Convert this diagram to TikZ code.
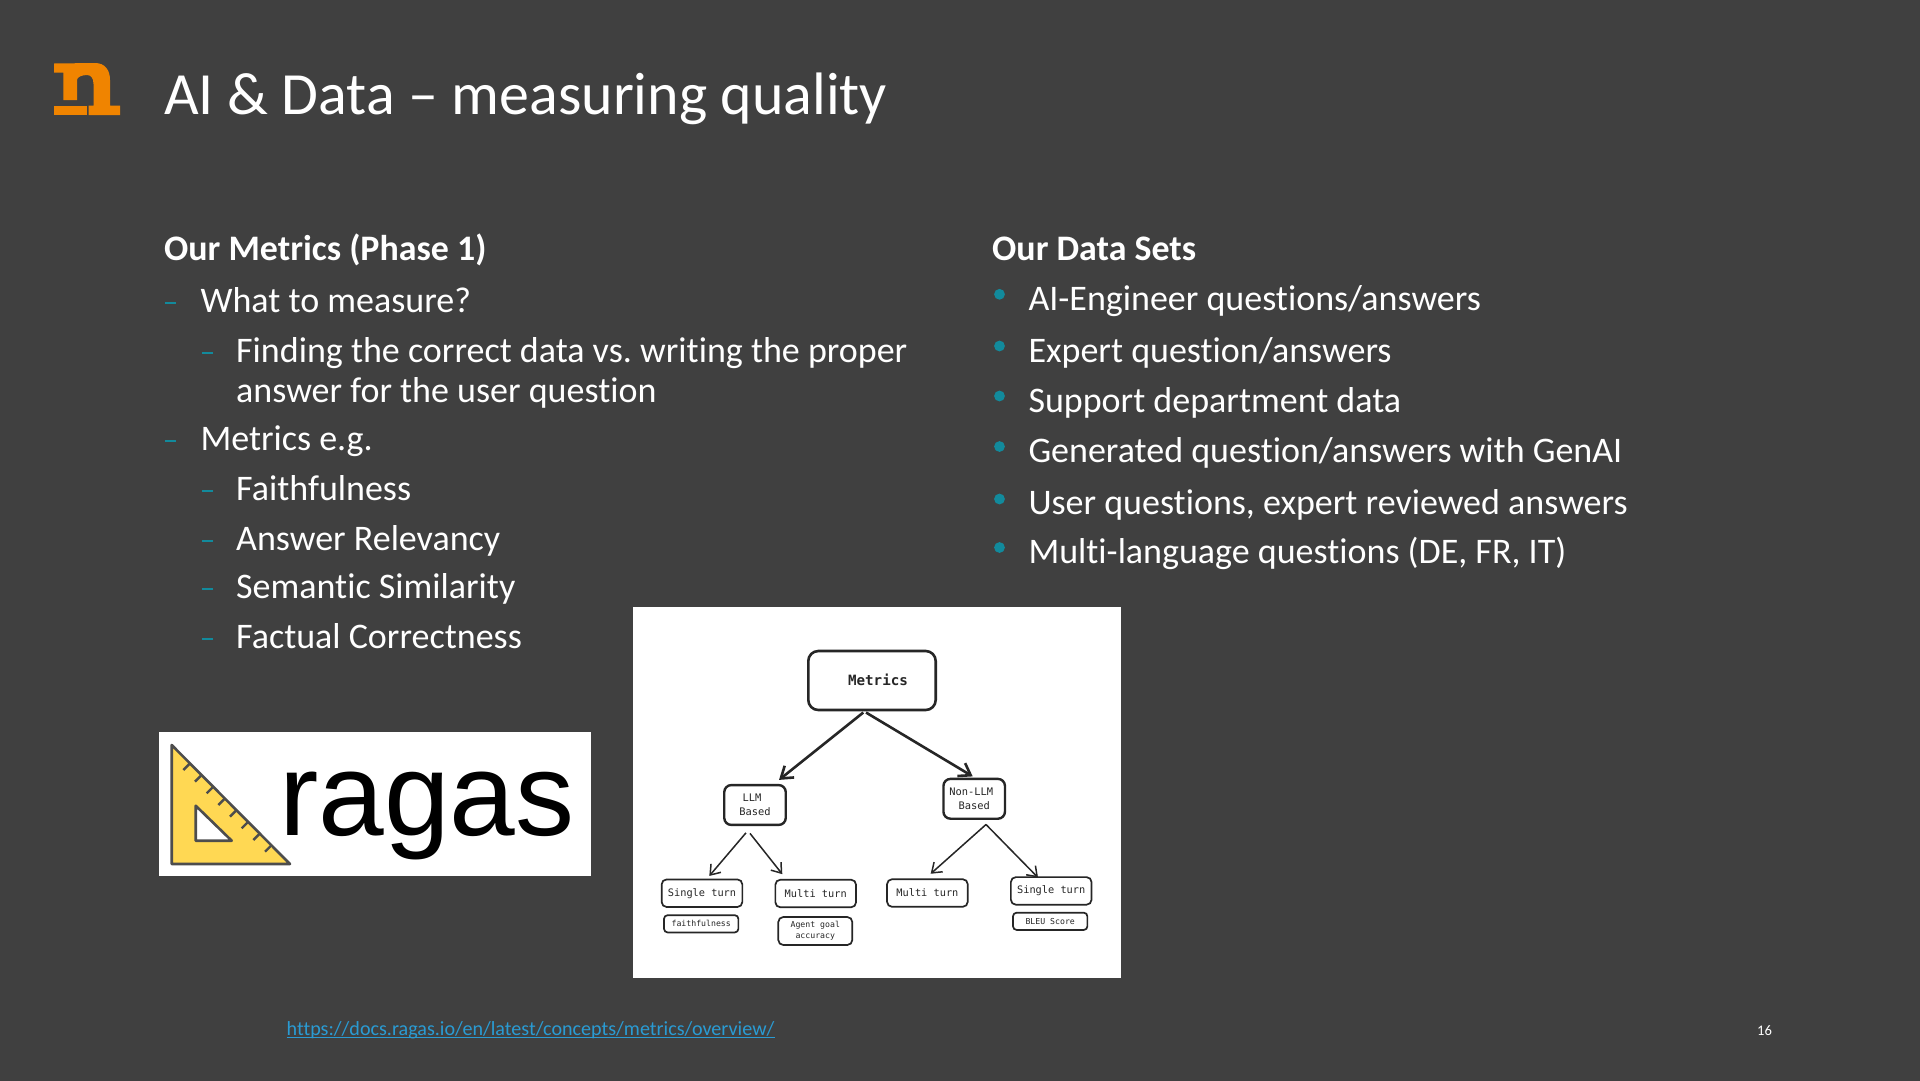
\documentclass[tikz,border=0pt]{standalone}
\usepackage{fontspec}
\setmainfont[Ligatures=NoCommon]{Carlito}
\newfontfamily\monof{DejaVu Sans Mono}
\newfontfamily\logof{Liberation Sans}
\usetikzlibrary{arrows.meta}
\definecolor{slidebg}{HTML}{404040}
\definecolor{teal1}{HTML}{128A9C}
\definecolor{orng}{HTML}{F08400}
\definecolor{linkc}{HTML}{2A9BD3}
\definecolor{ink}{HTML}{262626}
\definecolor{setsq}{HTML}{FFD853}
\definecolor{setln}{HTML}{4D4D4D}
\newcommand{\fs}[1]{\frenchspacing\fontsize{#1}{#1}\selectfont}
\tikzset{
  txt/.style={anchor=base west,inner sep=0pt,text=white,font=\fs{36}},
  head/.style={txt,font=\fs{35.9}\bfseries},
  hand/.style={draw=ink,rounded corners=5pt,inner sep=0pt,text=ink,align=center,line width=1.7pt},
  bigbox/.style={hand,line width=2.6pt,rounded corners=10pt,minimum width=127.4pt,minimum height=59pt,font=\monof\bfseries\fs{14.2}},
  midbox/.style={hand,line width=2.4pt,rounded corners=7pt,minimum width=61.5pt,minimum height=39.8pt,font=\monof\fontsize{10.4}{14}\selectfont},
  turnbox/.style={hand,minimum width=80.7pt,minimum height=27.6pt,font=\monof\fs{10.3}},
  smallbox/.style={hand,rounded corners=3.5pt,minimum width=74.3pt,minimum height=17.2pt,font=\monof\fs{8.2}},
  tallbox/.style={hand,minimum width=74pt,minimum height=28pt,font=\monof\fontsize{8.2}{11.3}\selectfont},
  arr/.style={draw=ink,line width=1.5pt,-{Straight Barb[length=9pt,width=13pt]}},
  arrb/.style={draw=ink,line width=2.6pt,-{Straight Barb[length=11pt,width=15pt]}},
  dashm/.style={fill=teal1,draw=none},
}
\begin{document}
\begin{tikzpicture}[x=1pt,y=-1pt]
\useasboundingbox (0,0) rectangle (1920,1080);
\fill[slidebg] (-2,-2) rectangle (1922,1082);

% logo
\fill[orng] (54,63.5) -- (95,63) .. controls (105,63) and (110,70) .. (110,80)
  -- (110,105.7) -- (120,105.7) -- (120,115) -- (88.5,115) -- (88.5,105.7)
  -- (93.5,105.7) -- (93.5,84) .. controls (93.5,78) and (91,75) .. (87,75)
  .. controls (82,75) and (77,77) .. (77,80) -- (77,100) -- (63.3,100)
  -- (63.3,72.5) -- (54,72.5) -- cycle;
\fill[orng] (54,105.7) rectangle (86.5,115);

% title
\node[txt,font=\fs{59.9}] (title) at (164,114) {AI \& Data – measuring quality};

% left column
\node[head] (lefthead) at (164,260.8) {Our Metrics (Phase 1)};
\node[txt] (l1) at (200.3,312.8) {What to measure?};
\node[txt] (l2) at (236,362.8) {Finding the correct data vs. writing the proper};
\node[txt] (l3) at (236,402.8) {answer for the user question};
\node[txt] (l4) at (200.3,450.5) {Metrics e.g.};
\node[txt] (l5) at (236,500.6) {Faithfulness};
\node[txt] (l6) at (236,550.6) {Answer Relevancy};
\node[txt] (l7) at (236,598.6) {Semantic Similarity};
\node[txt] (l8) at (236,648.6) {Factual Correctness};
\foreach \yy in {303,441} \fill[dashm] (165,\yy-1.2) rectangle (176,\yy+1.2);
\foreach \yy in {353,491,541,589,639} \fill[dashm] (201.5,\yy-1.2) rectangle (212.5,\yy+1.2);

% right column
\node[head] (righthead) at (992,260.8) {Our Data Sets};
\node[txt] (r1) at (1028.3,310.8) {AI-Engineer questions/answers};
\node[txt] (r2) at (1028.3,362.3) {Expert question/answers};
\node[txt] (r3) at (1028.3,412.3) {Support department data};
\node[txt] (r4) at (1028.3,462.8) {Generated question/answers with GenAI};
\node[txt] (r5) at (1028.3,514.8) {User questions, expert reviewed answers};
\node[txt] (r6) at (1028.3,563.8) {Multi-language questions (DE, FR, IT)};
\foreach \yy in {294.3,346,396,446.5,499,547.5} \fill[teal1] (999.5,\yy) circle (5.4);

% ragas logo
\fill[white] (159,732.3) rectangle (591,875.7);
\draw[setln,fill=setsq,line width=2.6pt,line join=round] (171.7,745) -- (171.7,864) -- (290,864) -- cycle;
\draw[setln,fill=white,line width=2.6pt,line join=round] (195.7,805.7) -- (195.7,840.7) -- (231.7,840.7) -- cycle;
\foreach \i in {0,...,7}
  \draw[setln,line width=2.4pt] ({189.3+\i*11.67},{764+\i*11.67}) -- ++(-6,6);
\node[anchor=base west,inner sep=0pt,text=black,font=\logof\fs{118}] (ragas) at (279,835) {ragas};

% metrics picture
\fill[white] (633,607) rectangle (1121,978);
\node[bigbox] (metrics) at (872,680.5) {\raisebox{1.5pt}{\hspace*{12pt}Metrics}};
\node[midbox] (llm) at (755,805) {\hspace*{-6pt}LLM\\Based};
\node[midbox] (nonllm) at (974.2,798.8) {\hspace*{-6pt}Non-LLM\\Based};
\node[turnbox] (single1) at (702,893.2) {Single turn};
\node[turnbox] (multi1) at (815.7,893.5) {Multi turn};
\node[turnbox] (multi2) at (927.4,893) {Multi turn};
\node[turnbox] (single2) at (1051.2,890.9) {Single turn};
\node[smallbox] (faith) at (701.2,923.8) {faithfulness};
\node[tallbox] (agent) at (815.3,931) {\raisebox{-1pt}{Agent goal}\\\raisebox{-1pt}{accuracy}};
\node[smallbox] (bleu) at (1050.2,921.3) {BLEU Score};

\draw[arrb] ([xshift=-8.7pt,yshift=-1.2pt]metrics.south) -- ([xshift=24pt,yshift=4pt]llm.north);
\draw[arrb] ([xshift=-6pt,yshift=-1.2pt]metrics.south) -- ([xshift=-1.5pt,yshift=1.3pt]nonllm.north);
\draw[arr] ([xshift=-9pt,yshift=-6.7pt]llm.south) -- ([xshift=7.3pt,yshift=2.6pt]single1.north);
\draw[arr] ([xshift=-5pt,yshift=-7.3pt]llm.south) -- ([xshift=-33.4pt,yshift=4.7pt]multi1.north);
\draw[arr] ([xshift=11.8pt,yshift=-4.6pt]nonllm.south) -- ([xshift=3.3pt,yshift=4.6pt]multi2.north);
\draw[arr] ([xshift=11.8pt,yshift=-4.6pt]nonllm.south) -- ([xshift=-13.2pt,yshift=-1.3pt]single2.north);

% footer
\node[txt,text=linkc,font=\fs{20.1}] (link) at (286.5,1035) {https://docs.ragas.io/en/latest/concepts/metrics/overview/};
\draw[linkc,line width=1.4pt] ([yshift=-2.6pt]link.base west) -- ([yshift=-2.6pt]link.base east);
\node[txt,font=\fs{14.6},anchor=base] (pagenum) at (1764.5,1035) {16};
\end{tikzpicture}
\end{document}
